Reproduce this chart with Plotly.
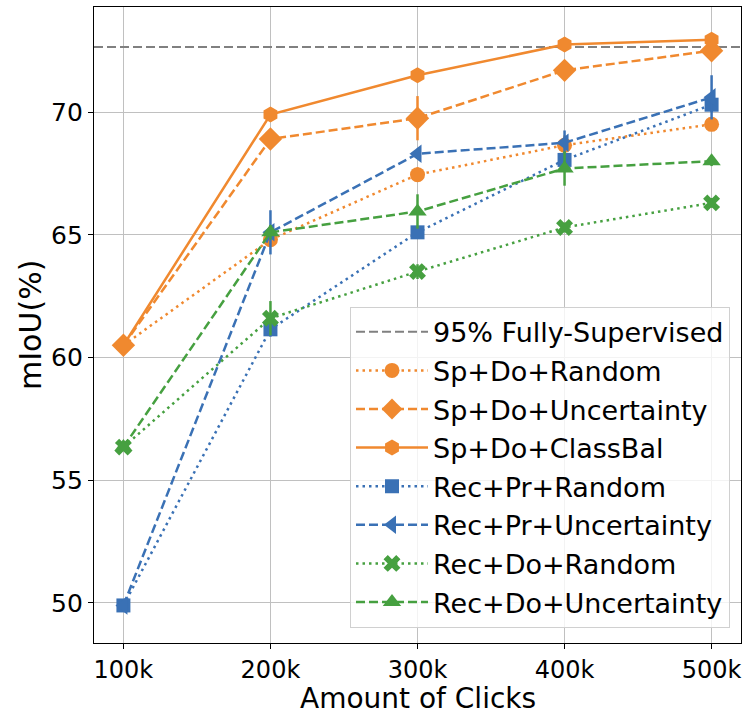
import plotly.graph_objects as go

clicks = [100, 200, 300, 400, 500]          # thousands of clicks
tick_labels = ["100k", "200k", "300k", "400k", "500k"]
y_ticks = [50, 55, 60, 65, 70]
full_sup = 72.65                              # 95% fully-supervised reference

series_names = ["Sp+Do+Random", "Sp+Do+Uncertainty", "Sp+Do+ClassBal",
                "Rec+Pr+Random", "Rec+Pr+Uncertainty",
                "Rec+Do+Random", "Rec+Do+Uncertainty"]

sp_do_random = [60.5, 64.8, 67.45, 68.65, 69.5]
sp_do_random_err = [0.1, 0.3, 0.3, 0.4, 0.2]
sp_do_unc = [60.5, 68.9, 69.75, 71.7, 72.5]
sp_do_unc_err = [0.1, 0.2, 0.9, 0.2, 0.2]
sp_do_cb = [60.5, 69.9, 71.5, 72.75, 72.95]
sp_do_cb_err = [0.1, 0.1, 0.2, 0.1, 0.1]
rec_pr_random = [49.9, 61.15, 65.1, 68.05, 70.3]
rec_pr_random_err = [0.2, 0.3, 0.2, 0.3, 0.3]
rec_pr_unc = [49.9, 65.1, 68.3, 68.75, 70.6]
rec_pr_unc_err = [0.2, 0.9, 0.2, 0.5, 0.9]
rec_do_random = [56.35, 61.6, 63.5, 65.3, 66.3]
rec_do_random_err = [0.1, 0.7, 0.3, 0.2, 0.2]
rec_do_unc = [56.35, 65.1, 65.95, 67.7, 68.0]
rec_do_unc_err = [0.1, 0.3, 0.7, 0.7, 0.2]

values = [sp_do_random, sp_do_unc, sp_do_cb, rec_pr_random, rec_pr_unc, rec_do_random, rec_do_unc]
errors = [sp_do_random_err, sp_do_unc_err, sp_do_cb_err, rec_pr_random_err, rec_pr_unc_err,
          rec_do_random_err, rec_do_unc_err]

ORANGE = "#f0892f"
BLUE = "#3a71b5"
GREEN = "#46a040"
DOT = "2.5px,4px"
DASH = "9px,4px"
colors = [ORANGE, ORANGE, ORANGE, BLUE, BLUE, GREEN, GREEN]
dashes = [DOT, DASH, "solid", DOT, DASH, DOT, DASH]
symbols = ["circle", "diamond", "hexagon", "square", "triangle-left", "x", "triangle-up"]
sizes = [15, 18, 16, 14, 16, 15, 16]

X_RANGE = [80, 520]
Y_RANGE = [48.37, 74.28]

fig = go.Figure()
fig.add_trace(go.Scatter(
    x=X_RANGE, y=[full_sup, full_sup], mode="lines", name="95% Fully-Supervised",
    line=dict(color="#808080", width=2, dash=DASH), legendgroup="g0"))

for i, (name, v, e) in enumerate(zip(series_names, values, errors)):
    fig.add_trace(go.Scatter(
        x=clicks, y=v, name=name, mode="lines+markers",
        line=dict(color=colors[i], width=2.5, dash=dashes[i]),
        marker=dict(symbol=symbols[i], size=sizes[i], color=colors[i],
                    line=dict(width=0)),
        error_y=dict(type="data", array=e, visible=True, width=0,
                     thickness=2.5, color=colors[i]),
        legendgroup="g%d" % (i + 1)))

fig.update_layout(
    width=752, height=714,
    margin=dict(l=94, r=11, t=7, b=71),
    plot_bgcolor="white", paper_bgcolor="white",
    font=dict(family="DejaVu Sans", color="black"),
    showlegend=True,
    legend=dict(x=0.983, y=0.024, xanchor="right", yanchor="bottom",
                bgcolor="rgba(255,255,255,0.8)", bordercolor="#d0d0d0", borderwidth=1,
                font=dict(size=27, family="DejaVu Sans"), itemwidth=72,
                tracegroupgap=0.5),
    xaxis=dict(range=X_RANGE, tickvals=clicks, ticktext=tick_labels, automargin=False,
               tickfont=dict(size=24), showgrid=True, gridcolor="#c0c0c0", gridwidth=1,
               showline=True, linecolor="black", linewidth=1.2, mirror=True,
               ticks="outside", ticklen=5, tickcolor="black", zeroline=False),
    yaxis=dict(range=Y_RANGE, tickvals=y_ticks, automargin=False,
               tickfont=dict(size=25), showgrid=True, gridcolor="#c0c0c0", gridwidth=1,
               showline=True, linecolor="black", linewidth=1.2, mirror=True,
               ticks="outside", ticklen=5, tickcolor="black", zeroline=False),
    annotations=[
        dict(text="Amount of Clicks", xref="paper", yref="paper", x=0.5, y=-0.0875,
             xanchor="center", yanchor="middle", showarrow=False, font=dict(size=28)),
        dict(text="mIoU(%)", xref="paper", yref="paper", x=-0.099, y=0.5, textangle=-90,
             xanchor="center", yanchor="middle", showarrow=False, font=dict(size=30)),
    ],
)

fig.write_html("out.html")
